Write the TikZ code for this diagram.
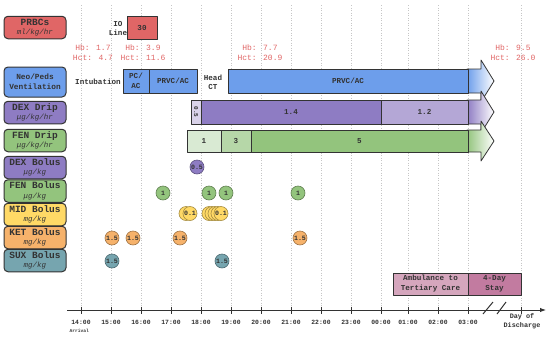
\documentclass[tikz,border=0pt]{standalone}
\usepackage{fontspec}
\setmainfont{Liberation Mono}
\usetikzlibrary{arrows.meta}

\definecolor{ink}{HTML}{333333}
\definecolor{hbred}{HTML}{E06666}
\definecolor{prbc}{HTML}{E06666}
\definecolor{vent}{HTML}{6D9EEB}
\definecolor{dex}{HTML}{8E7CC3}
\definecolor{dexlt}{HTML}{B4A7D6}
\definecolor{dexxlt}{HTML}{D9D2E9}
\definecolor{fen}{HTML}{93C47D}
\definecolor{fenlt}{HTML}{B6D7A8}
\definecolor{fenxlt}{HTML}{D9EAD3}
\definecolor{mid}{HTML}{FFD966}
\definecolor{ket}{HTML}{F6B26B}
\definecolor{sux}{HTML}{76A5AF}
\definecolor{amb}{HTML}{D5A6BD}
\definecolor{stay}{HTML}{C27BA0}

\tikzset{
	edge/.style={draw=ink, line width=0.8pt},
	rowbox/.style={edge, line width=1pt, rounded corners=4pt, minimum width=62pt,
		minimum height=22.5pt, inner sep=0pt, align=center, text=ink,
		font=\fontsize{7.5}{9.5}\selectfont},
	segtxt/.style={font=\bfseries\fontsize{7.6}{10}\selectfont, text=ink, align=center},
	bolus/.style={circle, draw=#1!65!black, fill=#1, line width=0.6pt, minimum size=14pt,
		inner sep=0pt, text=ink, font=\bfseries\fontsize{6.6}{6.6}\selectfont},
	labtxt/.style={font=\bfseries\fontsize{7.6}{9.5}\selectfont, text=ink, align=center},
	hbtxt/.style={text=hbred, font=\fontsize{8}{10}\selectfont, align=center},
	gridline/.style={draw=gray!45, dotted, line width=0.5pt},
	axisline/.style={draw=ink, line width=1pt},
	timelbl/.style={font=\bfseries\fontsize{6.4}{7.5}\selectfont, text=ink},
}

\begin{document}
\begin{tikzpicture}[x=1pt, y=-1pt, line join=round]
	\useasboundingbox (0,0) rectangle (550,338);
	
	% Hour grid, ticks and labels
	\foreach \h/\t/\x in {
		h14/14:00/81, h15/15:00/111, h16/16:00/141, h17/17:00/171,
		h18/18:00/201, h19/19:00/231, h20/20:00/261, h21/21:00/291,
		h22/22:00/321, h23/23:00/351, h00/00:00/381, h01/01:00/408,
		h02/02:00/438, h03/03:00/468
	}{
		\draw[gridline] (\x,5) -- (\x,306);
		\draw[axisline] (\x,306.5) -- (\x,313.5);
		\node[timelbl] (\h) at (\x,322) {\t};
	}
	\draw[gridline] (521,5) -- (521,306);
	\draw[axisline] (521,306.5) -- (521,313.5);
	
	% Time axis
	\coordinate (axL) at (67,310);
	\coordinate (axR) at (546,310);
	\draw[axisline, -{Latex[length=6pt, width=4.5pt]}] (axL) -- (axR);
	\draw[axisline] (483,314) -- (493,302) (497,314) -- (506,302);
	\node[font=\bfseries\fontsize{4.6}{5}\selectfont, text=ink, anchor=west] (arrival) at (66,330.5) {Arrival};
	\node[timelbl, align=center, font=\bfseries\fontsize{6.8}{9}\selectfont] (discharge) at (522,321) {Day of\\Discharge};
	
	% Row labels
	\foreach \nm/\y/\c/\ttl/\unit in {
		prbcs/27.5/prbc/PRBCs/{ml/kg/hr},
		dexdrip/112.5/dex/DEX Drip/{μg/kg/hr},
		fendrip/140.5/fen/FEN Drip/{μg/kg/hr},
		dexbol/167.5/dex/DEX Bolus/{μg/kg},
		fenbol/191/fen/FEN Bolus/{μg/kg},
		midbol/214.5/mid/MID Bolus/{mg/kg},
		ketbol/237.5/ket/KET Bolus/{mg/kg},
		suxbol/260.5/sux/SUX Bolus/{mg/kg}
	}{
		\node[rowbox, fill=\c] (\nm) at (35,\y) {{\bfseries\fontsize{9.5}{9.5}\selectfont \ttl}\\{\itshape \unit}};
	}
	\node[rowbox, fill=vent, minimum height=30pt, font=\bfseries\fontsize{7.8}{9.6}\selectfont] (ventlbl) at (35,82) {Neo/Peds\\Ventilation};
	
	% PRBCs and labs
	\node[labtxt] (ioline) at (118,28.5) {IO\\Line};
	\draw[edge, fill=prbc] (127,16) rectangle (157,39) node[midway, segtxt] (prbc30) {30};
	\foreach \nm/\x/\hb/\hct in {lab1/93/1.7/4.7, lab2/143/3.9/11.6, lab3/260/7.7/20.9, lab4/513/9.5/26.0}{
		\node[hbtxt] (\nm) at (\x,53) {Hb: \hb\\Hct: \hct};
	}
	
	% Fading arrow heads
	\foreach \c/\t/\b in {vent/69/93, dex/100/124, fen/130/152}{
		\draw[edge, left color=\c, right color=white]
		(467,\t) -- (481,\t) -- (481,{\t-9}) -- (494,{(\t+\b)/2}) -- (481,{\b+9}) -- (481,\b) -- (467,\b) -- cycle;
	}
	
	% Ventilation
	\node[labtxt] (intub) at (98,82) {Intubation};
	\draw[edge, fill=vent] (123,69) rectangle (149,93) node[midway, segtxt] (pcac) {PC/\\AC};
	\draw[edge, fill=vent] (149,69) rectangle (197,93) node[midway, segtxt] (prvc1) {PRVC/AC};
	\node[labtxt] (headct) at (213,82.5) {Head\\CT};
	\draw[edge, fill=vent] (228,69) rectangle (468,93) node[midway, segtxt] (prvc2) {PRVC/AC};
	
	% DEX drip
	\draw[edge, fill=dexxlt] (191,100) rectangle (201,124) node[midway, segtxt, rotate=-90, font=\bfseries\fontsize{6}{6}\selectfont] (dex05) {0.5};
	\draw[edge, fill=dex] (201,100) rectangle (381,124) node[midway, segtxt] (dex14) {1.4};
	\draw[edge, fill=dexlt] (381,100) rectangle (468,124) node[midway, segtxt] (dex12) {1.2};
	
	% FEN drip
	\draw[edge, fill=fenxlt] (187,130) rectangle (221,152) node[midway, segtxt] (fen1) {1};
	\draw[edge, fill=fenlt] (221,130) rectangle (251,152) node[midway, segtxt] (fen3) {3};
	\draw[edge, fill=fen] (251,130) rectangle (468,152) node[midway, segtxt] (fen5) {5};
	
	% Boluses
	\foreach \nm/\x/\y/\c/\v in {
		dexb1/197/167/dex/0.5,
		fenb1/163/193/fen/1, fenb2/209/193/fen/1, fenb3/226/193/fen/1, fenb4/298/193/fen/1,
		midb0/186/213.5/mid/{}, midb1/190/213.5/mid/0.1,
		midb2/209/213.5/mid/{}, midb3/212/213.5/mid/{}, midb4/215/213.5/mid/{},
		midb5/218/213.5/mid/{}, midb6/221/213.5/mid/0.1,
		ketb1/112/238/ket/1.5, ketb2/133/238/ket/1.5, ketb3/180/238/ket/1.5, ketb4/300/238/ket/1.5,
		suxb1/112/261/sux/1.5, suxb2/222/261/sux/1.5
	}{
		\node[bolus=\c] (\nm) at (\x,\y) {\v};
	}
	
	% Transfer and stay
	\draw[edge, fill=amb] (393,273) rectangle (468,295) node[midway, segtxt] (amb) {Ambulance to\\Tertiary Care};
	\draw[edge, fill=stay] (468,273) rectangle (521,295) node[midway, segtxt] (stay) {4-Day\\Stay};
	
\end{tikzpicture}
\end{document}
